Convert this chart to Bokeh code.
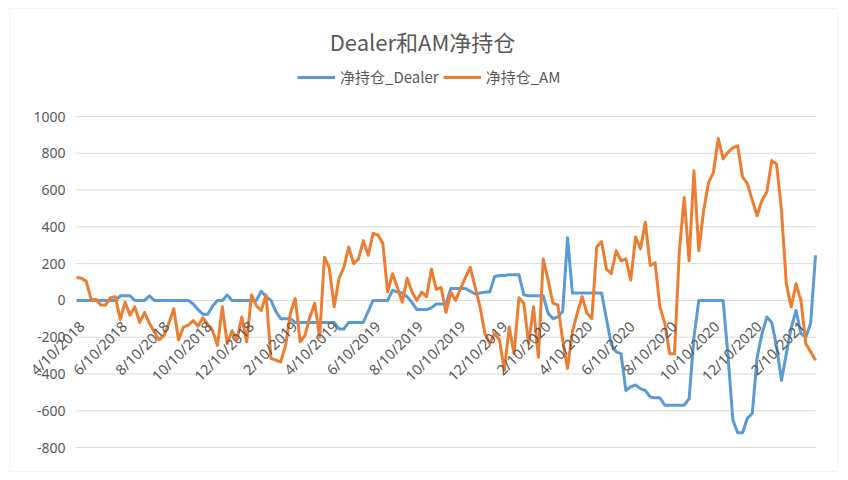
import math
import pandas as pd
from bokeh.plotting import figure
from bokeh.core.properties import value
from bokeh.models import (ColumnDataSource, LabelSet, Label, Legend, LegendItem,
                          Range1d, BoxAnnotation)
from bokeh.embed import file_html
from bokeh.resources import INLINE

# ---------------- data ----------------
start_date = "2018-04-10"
n_weeks = 153

dealer = [
    0, 0, 0, 0, 0, 0, 0, 0, 0, 25,
    25, 25, 0, 0, 0, 25, 0, 0, 0, 0,
    0, 0, 0, 0, -20, -50, -75, -75, -30, 0,
    0, 30, 0, 0, 0, 0, 0, 0, 50, 20,
    0, -60, -100, -100, -100, -120, -120, -120, -120, -120,
    -120, -120, -120, -120, -155, -155, -120, -120, -120, -120,
    -60, 0, 0, 0, 0, 55, 45, 40, 20, -10,
    -50, -50, -50, -40, -20, -20, -20, 65, 65, 65,
    65, 50, 35, 40, 45, 45, 130, 135, 135, 140,
    140, 140, 30, 25, 25, 25, 25, -70, -100, -90,
    -60, 340, 40, 40, 40, 40, 40, 40, 40, -100,
    -240, -280, -290, -490, -470, -460, -480, -490, -525, -530,
    -530, -570, -570, -570, -570, -570, -535, -200, 0, 0,
    0, 0, 0, 0, -300, -650, -720, -720, -640, -615,
    -310, -180, -90, -120, -250, -435, -290, -150, -55, -180,
    -200, -125, 245,
]

am = [
    125, 120, 105, 5, 5, -25, -25, 15, 20, -105,
    -10, -80, -35, -120, -65, -125, -170, -215, -190, -125,
    -45, -215, -145, -135, -110, -140, -95, -130, -165, -245,
    -35, -235, -165, -215, -90, -225, 30, -30, -55, 30,
    -315, -325, -335, -245, -70, 10, -225, -190, -90, -15,
    -200, 235, 175, -35, 120, 180, 290, 200, 225, 325,
    245, 365, 355, 310, 45, 145, 70, -10, 120, 45,
    0, 45, 20, 170, 60, 70, -65, 45, 0, 65,
    125, 180, 70, -35, -180, -235, -180, -215, -380, -145,
    -290, 15, -15, -235, -35, -310, 225, 110, -15, -25,
    -215, -370, -170, -70, 20, -70, -100, 290, 320, 170,
    145, 270, 215, 225, 110, 345, 280, 425, 190, 205,
    -35, -125, -290, -290, 270, 560, 215, 705, 270, 490,
    640, 695, 880, 770, 805, 830, 840, 670, 635, 545,
    460, 545, 590, 760, 740, 490, 90, -35, 90, 0,
    -235, -280, -325,
]

x_tick_dates = ["2018-04-10", "2018-06-10", "2018-08-10", "2018-10-10", "2018-12-10",
                "2019-02-10", "2019-04-10", "2019-06-10", "2019-08-10", "2019-10-10",
                "2019-12-10", "2020-02-10", "2020-04-10", "2020-06-10", "2020-08-10",
                "2020-10-10", "2020-12-10", "2021-02-10"]
x_tick_labels = ["4/10/2018", "6/10/2018", "8/10/2018", "10/10/2018", "12/10/2018",
                 "2/10/2019", "4/10/2019", "6/10/2019", "8/10/2019", "10/10/2019",
                 "12/10/2019", "2/10/2020", "4/10/2020", "6/10/2020", "8/10/2020",
                 "10/10/2020", "12/10/2020", "2/10/2021"]
y_ticks = [-800, -600, -400, -200, 0, 200, 400, 600, 800, 1000]
y_tick_labels = ["-800", "-600", "-400", "-200", "0", "200", "400", "600", "800", "1000"]

title_text = "Dealer和AM净持仓"
series_names = ["净持仓_Dealer", "净持仓_AM"]
# --------------------------------------

dates = pd.date_range(start_date, periods=n_weeks, freq="7D")
src = ColumnDataSource(dict(date=dates, dealer=dealer, am=am))

# layout (pixels on the canvas)
W, H = 840, 472
PL, PR, PT, PB = 76, 815, 116, 447   # plot-area edges

d0 = dates[0].value / 1e6
d1 = dates[-1].value / 1e6
ms_per_px = (d1 - d0) / (PR - PL)
x_start = d0 - PL * ms_per_px
x_end = d0 + (W - PL) * ms_per_px
u_per_px = (y_ticks[-1] - y_ticks[0]) / (PB - PT)
y_end = y_ticks[-1] + PT * u_per_px
y_start = y_ticks[0] - (H - PB) * u_per_px

p = figure(width=W, height=H, x_axis_type="datetime", output_backend="svg",
           toolbar_location=None, x_axis_location=None, y_axis_location=None,
           x_range=Range1d(x_start, x_end), y_range=Range1d(y_start, y_end),
           min_border=0)
p.background_fill_color = "white"
p.border_fill_color = "white"
p.outline_line_color = None
p.grid.visible = False

grey_txt = "#595959"

# horizontal gridlines across the plot area
p.segment(x0=[dates[0]] * len(y_ticks), x1=[dates[-1]] * len(y_ticks),
          y0=y_ticks, y1=y_ticks, line_color="#d9d9d9", line_width=1)

blue = "#5B9BD5"
orange = "#ED7D31"
r1 = p.line("date", "dealer", source=src, line_color=blue, line_width=3,
            line_join="round")
r2 = p.line("date", "am", source=src, line_color=orange, line_width=3,
            line_join="round")

# y tick labels
ylab_src = ColumnDataSource(dict(x=[dates[0]] * len(y_ticks), y=y_ticks, t=y_tick_labels))
p.add_layout(LabelSet(x="x", y="y", text="t", source=ylab_src,
                      text_align="right", text_baseline="middle", x_offset=-11,
                      text_font=value("Noto Sans"), text_font_size="14px",
                      text_color=grey_txt))

# x tick labels rotated, hanging under the zero line (Excel style)
xlab_src = ColumnDataSource(dict(x=pd.to_datetime(x_tick_dates),
                                 y=[0] * len(x_tick_dates),
                                 t=x_tick_labels))
p.add_layout(LabelSet(x="x", y="y", text="t", source=xlab_src, angle=math.pi / 4,
                      text_align="right", text_baseline="middle",
                      x_offset=5, y_offset=-23,
                      text_font=value("Noto Sans"), text_font_size="14.5px",
                      text_color=grey_txt))

# title
p.add_layout(Label(x=422, y=H - 40, x_units="screen", y_units="screen",
                   text=title_text, text_align="center", text_baseline="alphabetic",
                   text_font="Noto Sans CJK SC", text_font_size="22px",
                   text_color=grey_txt))

legend = Legend(items=[LegendItem(label=series_names[0], renderers=[r1]),
                       LegendItem(label=series_names[1], renderers=[r2])],
                orientation="horizontal", location=(297, H - 87),
                glyph_width=38, glyph_height=16, label_height=20,
                label_standoff=5, spacing=4,
                padding=0, margin=0, border_line_color=None,
                background_fill_alpha=0,
                label_text_font="Noto Sans CJK SC", label_text_font_size="15px",
                label_text_color=grey_txt)
p.add_layout(legend)

# chart-area border
p.add_layout(BoxAnnotation(left=9, right=837, bottom=1, top=H - 8,
                           left_units="screen", right_units="screen",
                           bottom_units="screen", top_units="screen",
                           fill_alpha=0, line_color="#d9d9d9", line_width=1))

open("out.html", "w").write(file_html(p, INLINE))
